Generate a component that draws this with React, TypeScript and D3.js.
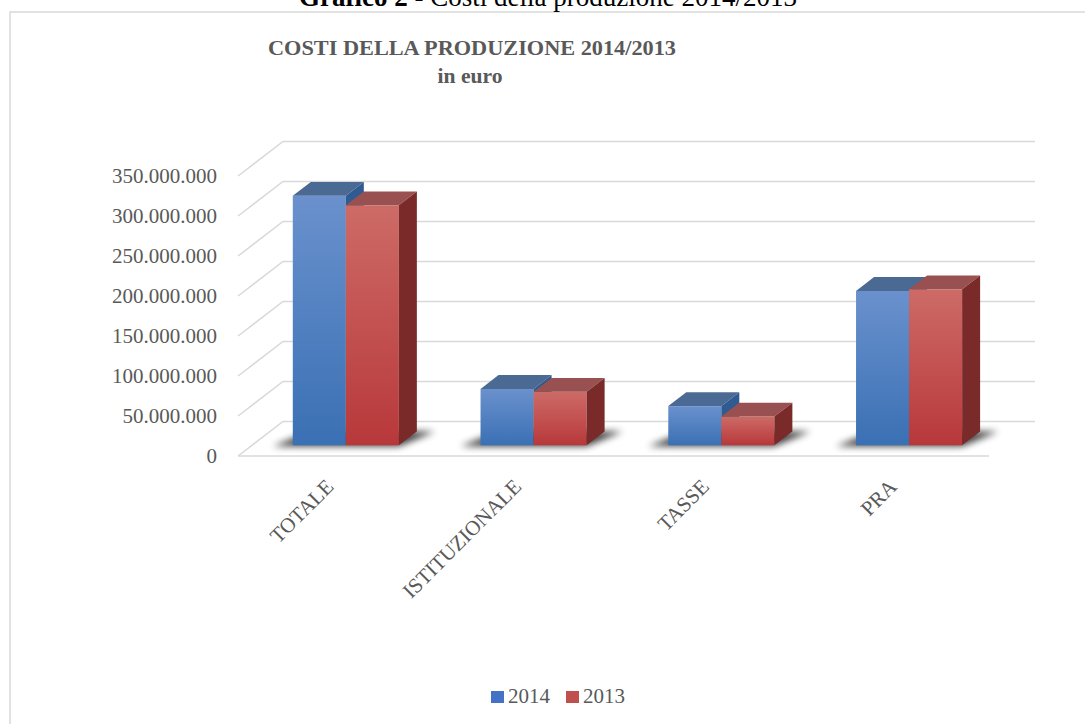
import * as d3 from 'd3';

// data
const categories = ['TOTALE', 'ISTITUZIONALE', 'TASSE', 'PRA'];
const years = ['2014', '2013'];
const values2014 = [312000000, 70500000, 49000000, 193000000];
const values2013 = [300000000, 67000000, 36000000, 195000000];
const yTickValues = [0, 50000000, 100000000, 150000000, 200000000, 250000000, 300000000, 350000000];

const W = 1085;
const H = 724;

// oblique 3d geometry
const floorLeft = 238;
const floorRight = 989;
const floorY = 456;
const depthDx = 45;
const depthDy = -34.5;
const barFront = 0.31;
const barBack = 0.71;

const font = '"Liberation Serif", "Times New Roman", serif';
const grey = '#595959';

const itFormat = d3.formatLocale({ decimal: ',', thousands: '.', grouping: [3], currency: ['€', ''] }).format(',.0f');

const palette = {
  '2014': { top: '#4b6a93', side: '#2f5b92', g0: '#6a91cd', g1: '#3a70b4', legend: '#4472c4' },
  '2013': { top: '#985150', side: '#7a2b29', g0: '#cd6b67', g1: '#b8383a', legend: '#c0504d' },
};

export default function App() {
  const x = d3.scaleBand<string>().domain(categories).range([floorLeft, floorRight]).paddingInner(0.435).paddingOuter(0.2175);
  const xs = d3.scaleBand<string>().domain(years).range([0, x.bandwidth()]);
  const h = d3.scaleLinear().domain([0, 350000000]).range([0, 280]);

  const series = [
    { year: '2014', values: values2014 },
    { year: '2013', values: values2013 },
  ];

  const dfx = depthDx * barFront, dfy = depthDy * barFront;
  const dbx = depthDx * barBack, dby = depthDy * barBack;
  const ddx = dbx - dfx, ddy = dby - dfy;

  return (
    <svg width={W} height={H} style={{ position: 'absolute', left: 0, top: 0, background: '#fff' }}>
      <defs>
        {years.map((yr) => (
          <linearGradient key={yr} id={'g' + yr} x1="0" y1="0" x2="0" y2="1">
            <stop offset="0" stopColor={palette[yr].g0} />
            <stop offset="1" stopColor={palette[yr].g1} />
          </linearGradient>
        ))}
        <filter id="blur" x="-30%" y="-100%" width="160%" height="300%">
          <feGaussianBlur stdDeviation="3.5" />
        </filter>
      </defs>

      <rect x={10} y={12} width={W + 20} height={H + 20} fill="#fff" stroke="#d9d9d9" strokeWidth={1.5} />

      <text x={548} y={6} textAnchor="middle" fontFamily={font} fontSize={27} fill="#000">
        <tspan fontWeight="bold">Grafico 2</tspan> - Costi della produzione 2014/2013
      </text>

      <text x={472} y={55} textAnchor="middle" fontFamily={font} fontSize={21.6} fontWeight="bold" fill={grey}
        textLength={408} lengthAdjust="spacingAndGlyphs">COSTI DELLA PRODUZIONE 2014/2013</text>
      <text x={470} y={83} textAnchor="middle" fontFamily={font} fontSize={21.6} fontWeight="bold" fill={grey}>in euro</text>

      {/* walls and gridlines */}
      <g stroke="#d9d9d9" strokeWidth={1.5} fill="none">
        {yTickValues.map((v) => {
          const y0 = floorY - h(v);
          return (
            <path key={v} d={`M${floorLeft},${y0}L${floorLeft + depthDx},${y0 + depthDy}L1035,${y0 + depthDy}`} />
          );
        })}
        <line x1={floorLeft} x2={floorRight} y1={floorY} y2={floorY} />
      </g>

      {yTickValues.map((v) => (
        <text key={v} x={217} y={floorY - h(v)} dy="0.35em" textAnchor="end" fontFamily={font} fontSize={21} fill={grey}>
          {itFormat(v)}
        </text>
      ))}

      {/* floor shadows */}
      <g filter="url(#blur)" fill="#000" opacity={0.75}>
        {categories.map((c) => {
          const x0 = x(c)! + dfx;
          const x1 = x0 + x.bandwidth();
          const yF = floorY + dfy;
          return (
            <polygon key={c} points={`${x0 - 20},${yF + 1} ${x1},${yF + 1} ${x1 + ddx + 18},${yF + ddy} ${x0 + ddx},${yF + ddy}`} />
          );
        })}
      </g>

      {/* bars */}
      {categories.map((c, i) => (
        <g key={c}>
          {series.map((s) => {
            const x0 = x(c)! + xs(s.year)! + dfx;
            const w = xs.bandwidth();
            const yb = floorY + dfy;
            const yt = yb - h(s.values[i]);
            const p = palette[s.year];
            return (
              <g key={s.year}>
                <rect x={x0} y={yt} width={w} height={yb - yt} fill={`url(#g${s.year})`} />
                <polygon points={`${x0},${yt} ${x0 + w},${yt} ${x0 + w + ddx},${yt + ddy} ${x0 + ddx},${yt + ddy}`} fill={p.top} />
                <polygon points={`${x0 + w},${yt} ${x0 + w + ddx},${yt + ddy} ${x0 + w + ddx},${yb + ddy} ${x0 + w},${yb}`} fill={p.side} />
              </g>
            );
          })}
        </g>
      ))}

      {/* category labels */}
      {categories.map((c) => {
        const cx = x(c)! + x.bandwidth() / 2 + dfx - 11;
        return (
          <text key={c} transform={`translate(${cx},488) rotate(-45)`} textAnchor="end" fontFamily={font} fontSize={21} fill={grey}>
            {c}
          </text>
        );
      })}

      {/* legend */}
      {years.map((yr, i) => (
        <g key={yr} transform={`translate(${491 + i * 75},691)`}>
          <rect width={13} height={12} fill={palette[yr].legend} />
          <text x={17} y={12} fontFamily={font} fontSize={21} fill={grey}>{yr}</text>
        </g>
      ))}
    </svg>
  );
}
